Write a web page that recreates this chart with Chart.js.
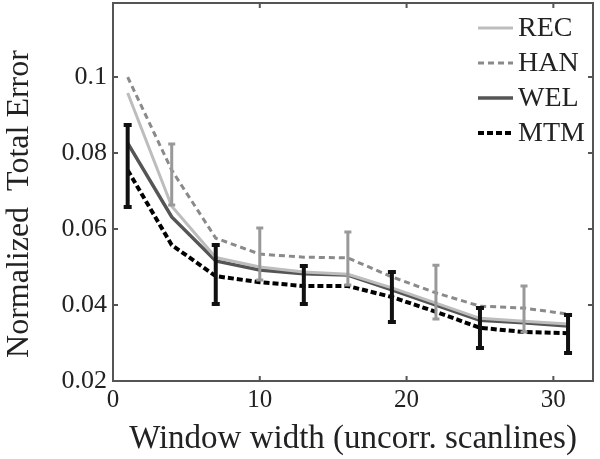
<!DOCTYPE html>
<html>
<head>
<meta charset="utf-8">
<script src="https://cdn.jsdelivr.net/npm/chart.js@4"></script>
<style>
  html, body { margin: 0; padding: 0; background: #fff; }
  #wrap { width: 600px; height: 459px; }
</style>
</head>
<body>
<div id="wrap"><canvas id="grafico"></canvas></div>
<script>
// Dados
const xValues = [1, 4, 7, 10, 13, 16, 19, 22, 25, 28, 31];
const recValues = [0.0958, 0.066, 0.0525, 0.0500, 0.0487, 0.0481, 0.0445, 0.0405, 0.0365, 0.0357, 0.0350];
const hanValues = [0.1000, 0.0755, 0.0576, 0.0534, 0.0526, 0.0524, 0.0474, 0.0432, 0.0397, 0.0392, 0.0376];
const welValues = [0.0826, 0.0632, 0.0516, 0.0492, 0.0482, 0.0479, 0.0440, 0.0400, 0.0360, 0.0353, 0.0345];
const mtmValues = [0.0755, 0.0558, 0.0476, 0.0460, 0.0450, 0.0450, 0.0421, 0.0382, 0.0340, 0.0329, 0.0326];

// Barras de erro (MTM em preto, HAN em cinza)
const mtmErrX = [1, 7, 13, 19, 25, 31];
const mtmErrLow = [0.0658, 0.0403, 0.0403, 0.0355, 0.0287, 0.0274];
const mtmErrHigh = [0.0874, 0.0558, 0.0503, 0.0487, 0.0392, 0.0374];
const hanErrX = [4, 10, 16, 22, 28];
const hanErrLow = [0.0663, 0.0466, 0.0453, 0.0363, 0.0329];
const hanErrHigh = [0.0824, 0.0603, 0.0592, 0.0505, 0.0450];

const xTicks = [0, 10, 20, 30];
const yTicks = [0.02, 0.04, 0.06, 0.08, 0.1];
const seriesNames = ['REC', 'HAN', 'WEL', 'MTM'];

const fonte = 'Liberation Serif';

function pontos(valores) {
    return xValues.map((x, i) => ({ x: x, y: valores[i] }));
}

// Plugin para as barras de erro
const barrasErro = {
    id: 'barrasErro',
    afterDatasetsDraw(chart) {
        const ctx = chart.ctx;
        const sx = chart.scales.x, sy = chart.scales.y;
        function desenha(xs, lows, highs, cor, largura, cap) {
            ctx.save();
            ctx.strokeStyle = cor;
            ctx.lineWidth = largura;
            ctx.lineCap = 'butt';
            xs.forEach((x, i) => {
                const px = sx.getPixelForValue(x);
                const p1 = sy.getPixelForValue(lows[i]);
                const p2 = sy.getPixelForValue(highs[i]);
                ctx.beginPath();
                ctx.moveTo(px, p1); ctx.lineTo(px, p2);
                ctx.moveTo(px - cap, p1); ctx.lineTo(px + cap, p1);
                ctx.moveTo(px - cap, p2); ctx.lineTo(px + cap, p2);
                ctx.stroke();
            });
            ctx.restore();
        }
        desenha(hanErrX, hanErrLow, hanErrHigh, '#999999', 3, 3.5);
        desenha(mtmErrX, mtmErrLow, mtmErrHigh, '#111111', 4, 4);
    }
};

// Plugin para a moldura e os ticks internos (estilo matlab)
const moldura = {
    id: 'moldura',
    afterDraw(chart) {
        const ctx = chart.ctx;
        const a = chart.chartArea;
        const sx = chart.scales.x, sy = chart.scales.y;
        ctx.save();
        ctx.strokeStyle = '#555555';
        ctx.lineWidth = 2;
        ctx.strokeRect(a.left, a.top, a.right - a.left, a.bottom - a.top);
        ctx.beginPath();
        xTicks.forEach(t => {
            const px = sx.getPixelForValue(t);
            ctx.moveTo(px, a.bottom); ctx.lineTo(px, a.bottom - 5);
            ctx.moveTo(px, a.top); ctx.lineTo(px, a.top + 5);
        });
        yTicks.forEach(t => {
            const py = sy.getPixelForValue(t);
            ctx.moveTo(a.left, py); ctx.lineTo(a.left + 5, py);
            ctx.moveTo(a.right, py); ctx.lineTo(a.right - 5, py);
        });
        ctx.stroke();
        ctx.restore();
    }
};

// Plugin para a legenda dentro do gráfico
const legenda = {
    id: 'legenda',
    afterDraw(chart) {
        const ctx = chart.ctx;
        const a = chart.chartArea;
        ctx.save();
        ctx.font = '28px "' + fonte + '"';
        ctx.textBaseline = 'middle';
        ctx.fillStyle = '#222222';
        chart.data.datasets.forEach((ds, i) => {
            const y = a.top + 25 + i * 35;
            const x0 = a.right - 115;
            ctx.strokeStyle = ds.borderColor;
            ctx.lineWidth = ds.borderWidth;
            ctx.setLineDash(ds.borderDash || []);
            ctx.beginPath();
            ctx.moveTo(x0, y); ctx.lineTo(x0 + 35, y);
            ctx.stroke();
            ctx.setLineDash([]);
            ctx.fillText(ds.label, x0 + 40, y + 1);
        });
        ctx.restore();
    }
};

const ctx = document.getElementById('grafico').getContext('2d');
new Chart(ctx, {
    type: 'line',
    data: {
        datasets: [
            { label: seriesNames[0], data: pontos(recValues), borderColor: '#bdbdbd', borderWidth: 3, pointRadius: 0 },
            { label: seriesNames[1], data: pontos(hanValues), borderColor: '#8a8a8a', borderWidth: 3, borderDash: [6, 4], pointRadius: 0 },
            { label: seriesNames[2], data: pontos(welValues), borderColor: '#555555', borderWidth: 3.5, pointRadius: 0 },
            { label: seriesNames[3], data: pontos(mtmValues), borderColor: '#000000', borderWidth: 4, borderDash: [6, 3], pointRadius: 0 }
        ]
    },
    options: {
        responsive: true,
        maintainAspectRatio: false,
        animation: false,
        layout: { padding: { top: 3, right: 7, left: 0, bottom: 0 } },
        plugins: {
            legend: { display: false },
            tooltip: { enabled: false }
        },
        scales: {
            x: {
                type: 'linear',
                min: 0,
                max: 32.7,
                grid: { display: false, drawTicks: false },
                border: { display: false },
                ticks: {
                    stepSize: 10,
                    includeBounds: false,
                    padding: 4,
                    color: '#222222',
                    font: { family: fonte, size: 25 }
                },
                title: {
                    display: true,
                    text: 'Window width (uncorr. scanlines)',
                    color: '#222222',
                    font: { family: fonte, size: 33 },
                    padding: { top: 0, bottom: 0 }
                },
                afterFit(scale) {
                    scale.height = 78;
                    scale.paddingLeft = 0;
                    scale.paddingRight = 0;
                }
            },
            y: {
                min: 0.02,
                max: 0.1195,
                grid: { display: false, drawTicks: false },
                border: { display: false },
                ticks: {
                    stepSize: 0.02,
                    includeBounds: false,
                    padding: 6,
                    color: '#222222',
                    font: { family: fonte, size: 26 },
                    callback: v => Number(v.toFixed(2)).toString()
                },
                title: {
                    display: true,
                    text: 'Normalized  Total Error   ',
                    color: '#222222',
                    font: { family: fonte, size: 32 },
                    padding: { top: 0, bottom: 0 }
                },
                afterFit(scale) {
                    scale.width = 113;
                    scale.paddingTop = 0;
                    scale.paddingBottom = 0;
                }
            }
        }
    },
    plugins: [barrasErro, moldura, legenda]
});
</script>
</body>
</html>
